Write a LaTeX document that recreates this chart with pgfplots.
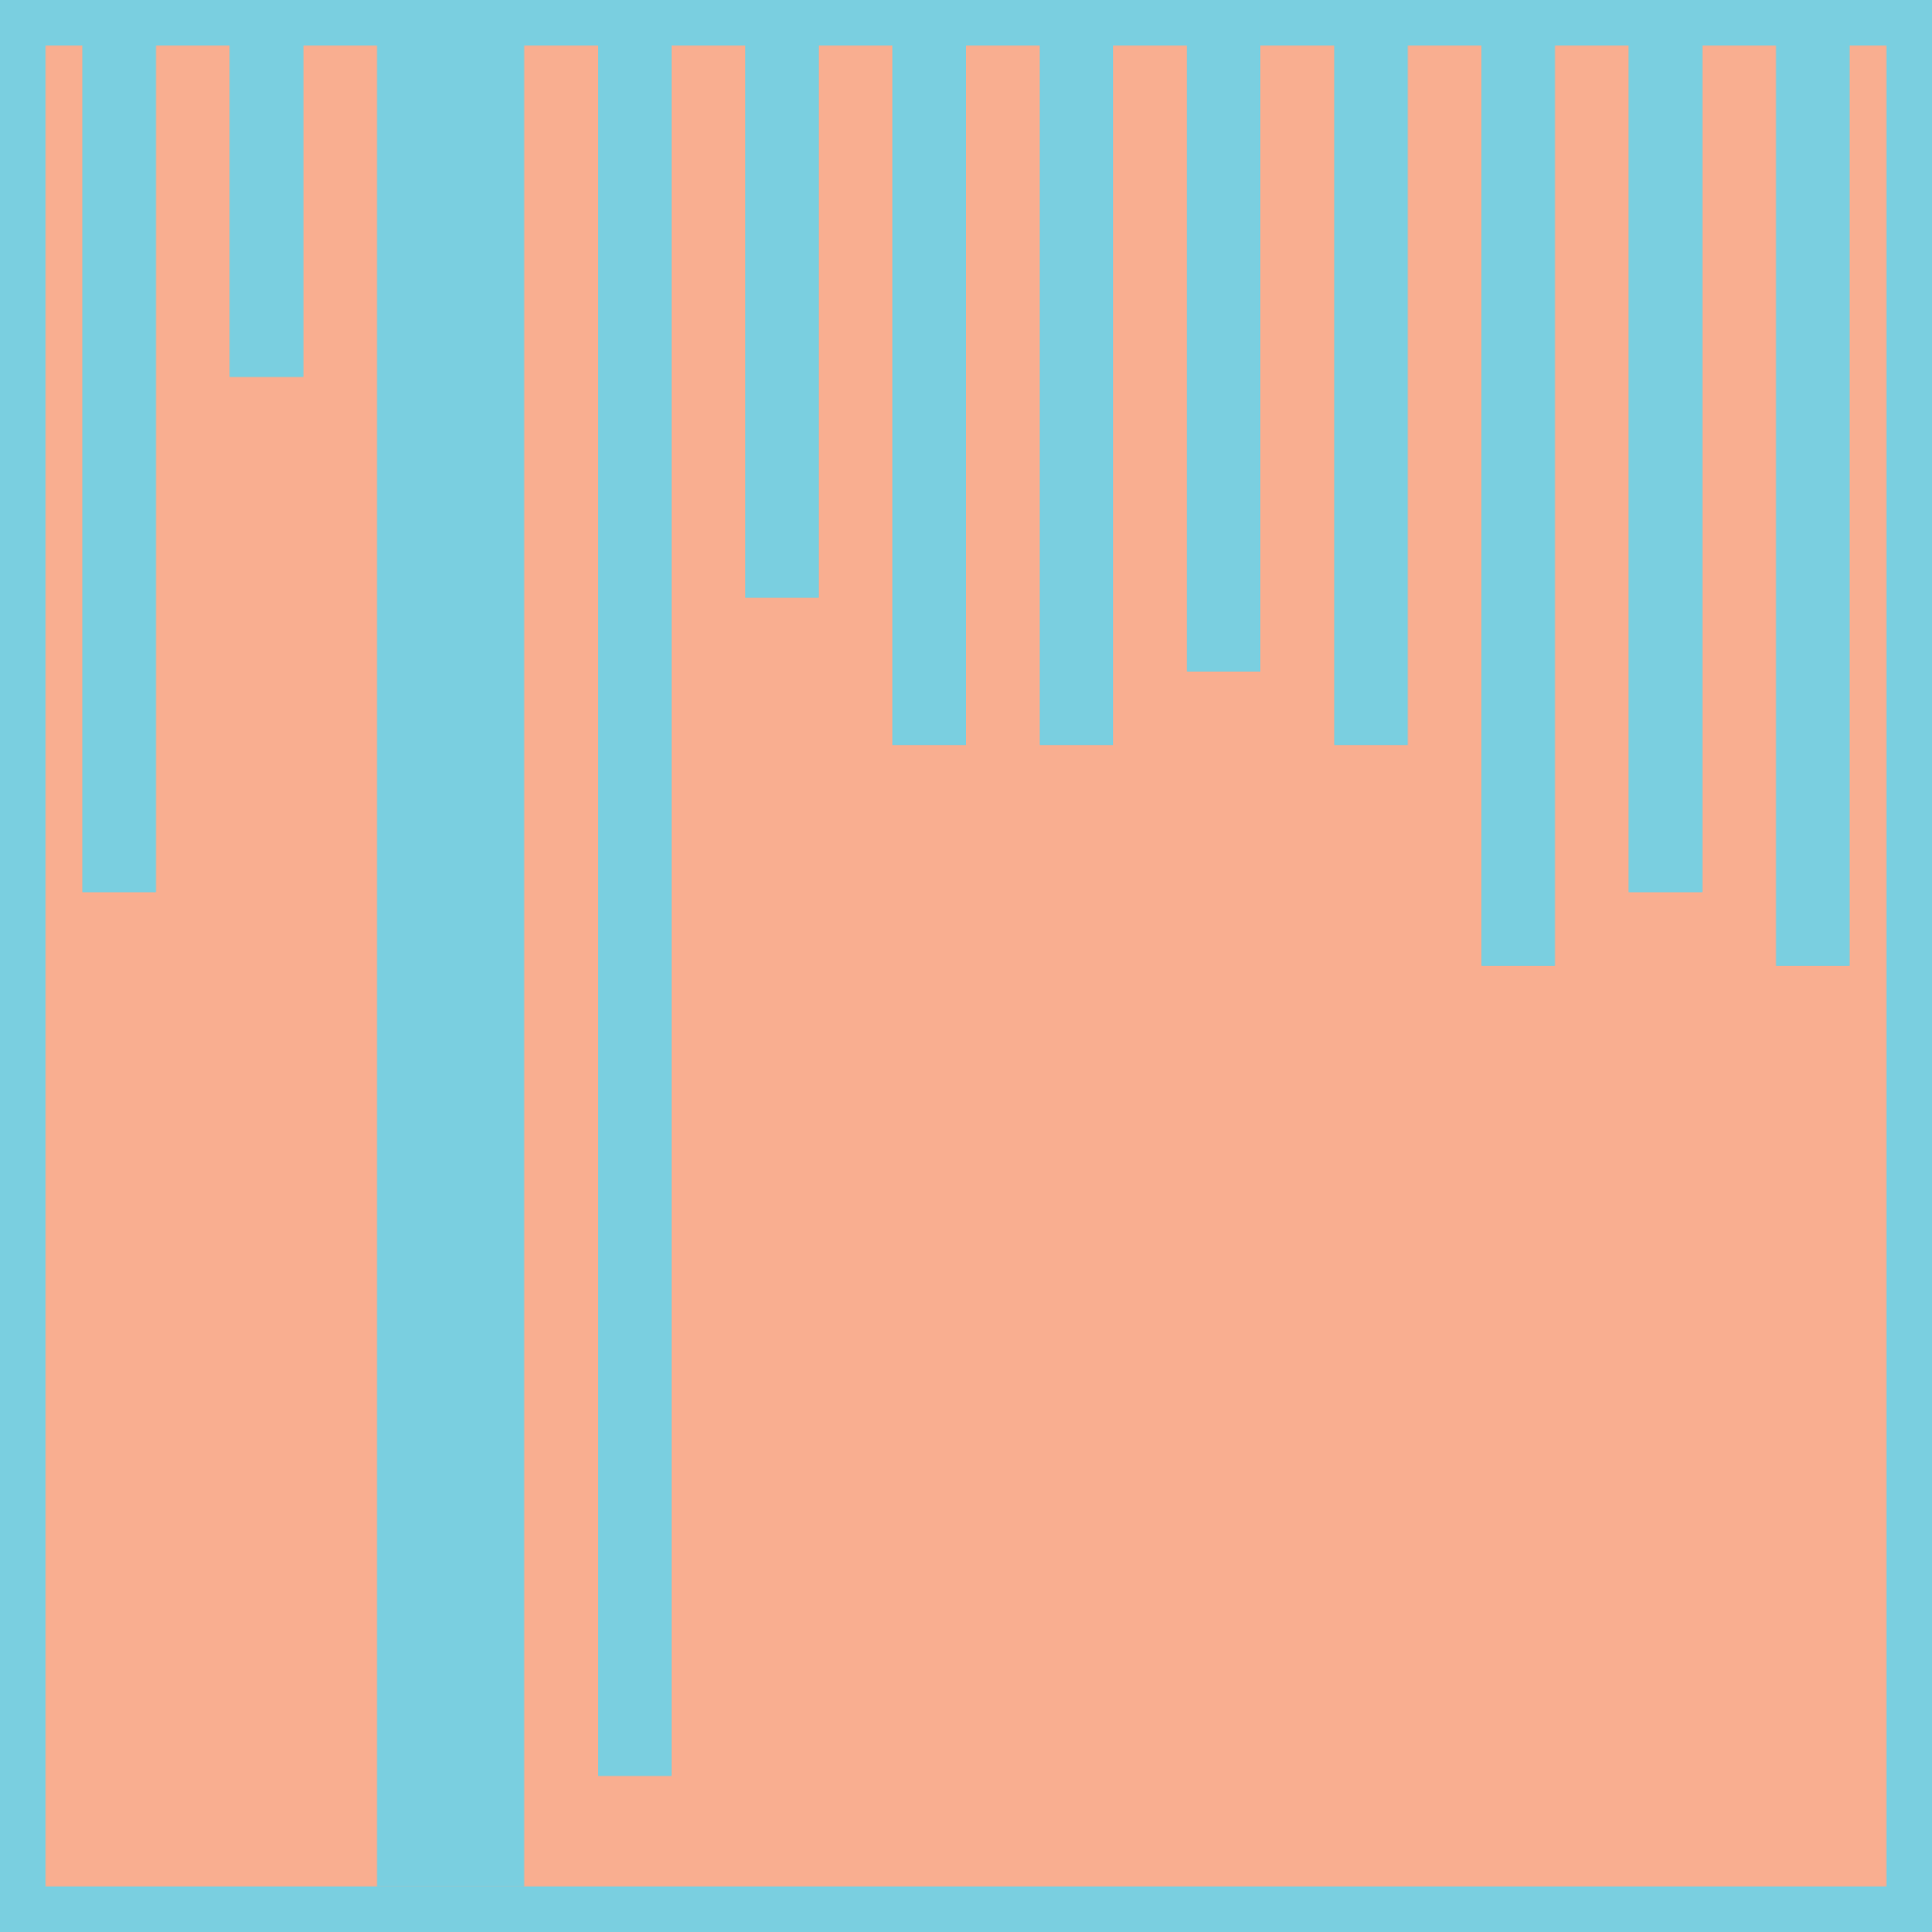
\documentclass[border=0pt]{standalone}
\usepackage{pgfplots}
\pgfplotsset{compat=1.18}
\definecolor{bgcyan}{RGB}{122,207,224}
\definecolor{salmon}{RGB}{249,174,144}

\begin{document}
\begin{tikzpicture}
  % page background, a thin band round the plot area
  \fill[bgcyan] (-0.236cm,-0.236cm) rectangle (9.758cm,9.758cm);
  \begin{axis}[
      scale only axis,
      width=9.522cm,
      height=9.522cm,
      xmin=0, xmax=25,
      ymin=0, ymax=25,
      hide axis,
      clip=true,
    ]
    % salmon area: full height except where the cyan columns hang down
    \addplot[draw=none, fill=salmon, const plot] coordinates {
      (0,25) (0.5,13.5) (1.5,25) (2.5,20.5) (3.5,25) (4.5,0) (6.5,25)
      (7.5,1.5) (8.5,25) (9.5,17.5) (10.5,25) (11.5,15.5) (12.5,25)
      (13.5,15.5) (14.5,25) (15.5,16.5) (16.5,25) (17.5,15.5) (18.5,25)
      (19.5,12.5) (20.5,25) (21.5,13.5) (22.5,25) (23.5,12.5) (24.5,25)
      (25,25)
    } \closedcycle;
  \end{axis}
\end{tikzpicture}
\end{document}
